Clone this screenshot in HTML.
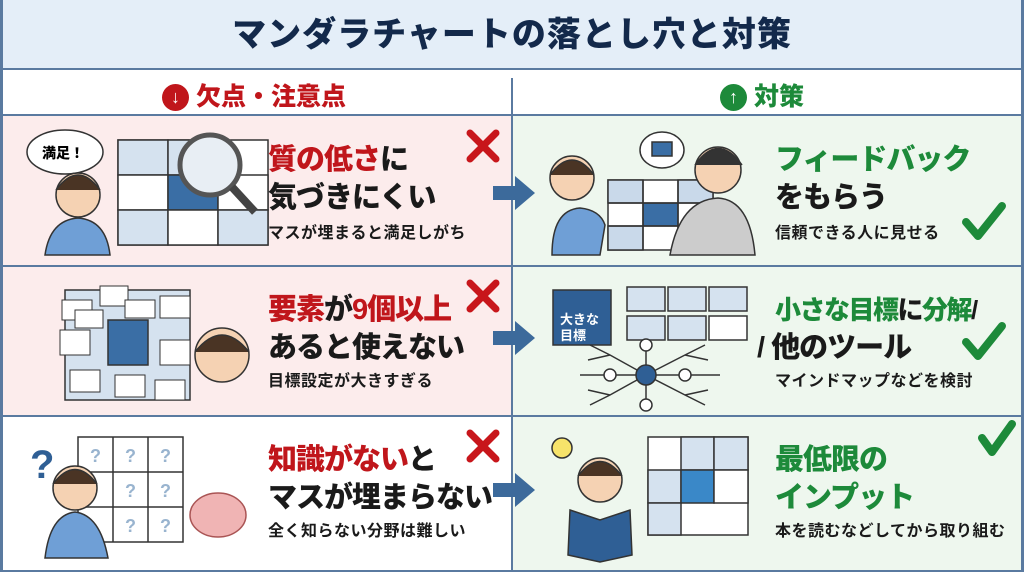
<!DOCTYPE html>
<html><head><meta charset="utf-8"><style>
*{margin:0;padding:0;box-sizing:border-box}
body{width:1024px;height:572px;overflow:hidden;background:#fff;font-family:"Liberation Sans","Noto Sans CJK JP",sans-serif;position:relative}
.a{position:absolute}
.t{position:absolute;font-weight:900;font-size:29px;line-height:40px;color:#1a1a1a;white-space:nowrap;letter-spacing:-1px}
.s{position:absolute;font-weight:700;font-size:16px;line-height:20px;color:#1a1a1a;white-space:nowrap;letter-spacing:0.5px}
.r{color:#c0161b}.g{color:#1d8a3a}
</style></head><body>
<div class="a" style="left:0;top:0;width:1024px;height:68px;background:#e4eef8"></div>
<div class="a" style="left:0;top:12px;width:1024px;text-align:center;font-size:34px;line-height:46px;font-weight:900;color:#13294b;letter-spacing:1px">マンダラチャートの落とし穴と対策</div>
<div class="a" style="left:162px;top:84px;width:27px;height:27px;border-radius:50%;background:#c0161b;color:#fff;font-size:18px;font-weight:900;text-align:center;line-height:27px">↓</div>
<div class="a" style="left:196px;top:81px;font-size:25px;line-height:32px;font-weight:900;color:#c0161b">欠点・注意点</div>
<div class="a" style="left:720px;top:84px;width:27px;height:27px;border-radius:50%;background:#1d8a3a;color:#fff;font-size:18px;font-weight:900;text-align:center;line-height:27px">↑</div>
<div class="a" style="left:754px;top:81px;font-size:25px;line-height:32px;font-weight:900;color:#1d8a3a">対策</div>
<!-- row bgs -->
<div class="a" style="left:2px;top:116px;width:510px;height:150px;background:#fcecec"></div>
<div class="a" style="left:512px;top:116px;width:510px;height:150px;background:#eef7ee"></div>
<div class="a" style="left:2px;top:266px;width:510px;height:150px;background:#fcecec"></div>
<div class="a" style="left:512px;top:266px;width:510px;height:150px;background:#eef7ee"></div>
<div class="a" style="left:2px;top:416px;width:510px;height:156px;background:#fff"></div>
<div class="a" style="left:512px;top:416px;width:510px;height:156px;background:#eef7ee"></div>
<!-- lines -->
<div class="a" style="left:0;top:68px;width:1024px;height:2px;background:#5a7aa0"></div>
<div class="a" style="left:0;top:114px;width:1024px;height:2px;background:#5a7aa0"></div>
<div class="a" style="left:0;top:265px;width:1024px;height:2px;background:#5a7aa0"></div>
<div class="a" style="left:0;top:415px;width:1024px;height:2px;background:#5a7aa0"></div>
<div class="a" style="left:0;top:570px;width:1024px;height:2px;background:#5a7aa0"></div>
<div class="a" style="left:511px;top:78px;width:2px;height:494px;background:#5a7aa0"></div>
<div class="a" style="left:0;top:0;width:3px;height:572px;background:#5a7aa0"></div>
<div class="a" style="left:1021px;top:0;width:3px;height:572px;background:#5a7aa0"></div>

<svg class="a" style="left:0;top:0" width="1024" height="572">
<g stroke="#333" stroke-width="1.5">
<ellipse cx="65" cy="152" rx="38" ry="22" fill="#fff"/>
<rect x="118" y="140" width="150" height="105" fill="#fff"/>
<rect x="118" y="140" width="50" height="35" fill="#d5e2ef"/><rect x="168" y="140" width="50" height="35" fill="#d5e2ef"/>
<rect x="118" y="175" width="50" height="35" fill="#fff"/><rect x="168" y="175" width="50" height="35" fill="#3a6ea5"/><rect x="218" y="175" width="50" height="35" fill="#fff"/>
<rect x="118" y="210" width="50" height="35" fill="#d5e2ef"/><rect x="168" y="210" width="50" height="35" fill="#fff"/><rect x="218" y="210" width="50" height="35" fill="#d5e2ef"/>
<circle cx="210" cy="165" r="30" fill="#e8eef4" stroke-width="5" stroke="#555"/>
<line x1="232" y1="187" x2="255" y2="212" stroke-width="8" stroke="#444"/>
<circle cx="78" cy="195" r="22" fill="#f5d2b3"/><path d="M56 190 Q78 160 100 190" fill="#4a3424"/>
<path d="M45 255 Q50 220 78 218 Q106 220 110 255Z" fill="#6f9fd6"/>
<rect x="608" y="180" width="105" height="70" fill="#fff"/>
<rect x="608" y="180" width="35" height="23" fill="#c9d9ea"/><rect x="643" y="203" width="35" height="23" fill="#3a6ea5"/><rect x="678" y="180" width="35" height="23" fill="#c9d9ea"/><rect x="608" y="226" width="35" height="24" fill="#c9d9ea"/><rect x="678" y="226" width="35" height="24" fill="#c9d9ea"/>
<line x1="643" y1="180" x2="643" y2="250"/><line x1="678" y1="180" x2="678" y2="250"/><line x1="608" y1="203" x2="713" y2="203"/><line x1="608" y1="226" x2="713" y2="226"/>
<circle cx="572" cy="178" r="22" fill="#f5d2b3"/><path d="M550 175 Q572 145 594 175" fill="#4a3424"/>
<path d="M552 255 Q552 210 580 208 Q600 210 605 225 L600 255Z" fill="#6f9fd6"/>
<circle cx="718" cy="170" r="23" fill="#f5d2b3"/><path d="M695 165 Q718 132 742 165" fill="#333"/>
<path d="M670 255 Q680 200 718 198 Q750 200 755 255Z" fill="#ccc"/>
<ellipse cx="662" cy="150" rx="22" ry="18" fill="#fff"/><rect x="652" y="142" width="20" height="14" fill="#3a6ea5"/>
<rect x="65" y="290" width="125" height="110" fill="#d5e2ef"/>
<rect x="108" y="320" width="40" height="45" fill="#3a6ea5"/>
<g fill="#fff" stroke-width="1"><rect x="62" y="300" width="30" height="20"/><rect x="100" y="286" width="28" height="20"/><rect x="160" y="296" width="30" height="22"/><rect x="60" y="330" width="30" height="25"/><rect x="160" y="340" width="30" height="25"/><rect x="70" y="370" width="30" height="22"/><rect x="115" y="375" width="30" height="22"/><rect x="155" y="380" width="30" height="20"/><rect x="75" y="310" width="28" height="18"/><rect x="125" y="300" width="30" height="18"/></g>
<circle cx="222" cy="355" r="27" fill="#f5d2b3"/><path d="M195 352 Q222 318 249 352" fill="#4a3424"/>
<rect x="553" y="290" width="58" height="55" fill="#2f5f95"/>
<g fill="#d5e2ef"><rect x="627" y="287" width="38" height="24"/><rect x="668" y="287" width="38" height="24"/><rect x="709" y="287" width="38" height="24"/><rect x="627" y="316" width="38" height="24"/><rect x="668" y="316" width="38" height="24"/><rect x="709" y="316" width="38" height="24" fill="#fff"/></g>
<g fill="none"><line x1="580" y1="375" x2="720" y2="375"/><line x1="646" y1="345" x2="646" y2="405"/><path d="M646 375 L610 355 L590 345 M610 355 L588 360 M646 375 L610 395 L590 405 M610 395 L588 390 M646 375 L685 355 L705 345 M685 355 L708 360 M646 375 L685 395 L705 405 M685 395 L708 390"/></g>
<circle cx="646" cy="375" r="10" fill="#2f5f95"/>
<g fill="#fff"><circle cx="646" cy="345" r="6"/><circle cx="646" cy="405" r="6"/><circle cx="610" cy="375" r="6"/><circle cx="685" cy="375" r="6"/></g>
<rect x="78" y="437" width="105" height="105" fill="#fff"/>
<line x1="113" y1="437" x2="113" y2="542"/><line x1="148" y1="437" x2="148" y2="542"/><line x1="78" y1="472" x2="183" y2="472"/><line x1="78" y1="507" x2="183" y2="507"/>
<circle cx="75" cy="488" r="22" fill="#f5d2b3"/><path d="M53 484 Q75 455 97 484" fill="#4a3424"/>
<path d="M45 558 Q50 515 75 512 Q100 515 108 558Z" fill="#6f9fd6"/>
<ellipse cx="218" cy="515" rx="28" ry="22" fill="#f0b4b4" stroke="#a55"/>
<rect x="648" y="437" width="100" height="98" fill="#fff"/>
<rect x="681" y="437" width="33" height="33" fill="#d5e2ef"/><rect x="714" y="437" width="34" height="33" fill="#d5e2ef"/>
<rect x="648" y="470" width="33" height="33" fill="#d5e2ef"/><rect x="681" y="470" width="33" height="33" fill="#3a88c8"/><rect x="714" y="470" width="34" height="33" fill="#fff"/>
<rect x="648" y="503" width="33" height="32" fill="#d5e2ef"/>
<circle cx="600" cy="480" r="22" fill="#f5d2b3"/><path d="M578 476 Q600 447 622 476" fill="#4a3424"/>
<path d="M570 510 L600 520 L630 510 L632 555 L600 562 L568 555Z" fill="#2f5f95"/>
<circle cx="562" cy="448" r="10" fill="#f7e36a"/>
</g>
<g fill="#3c6a9b">
<path d="M493 186 H515 V176 L535 193 L515 210 V200 H493Z"/>
<path d="M493 331 H515 V321 L535 338 L515 355 V345 H493Z"/>
<path d="M493 483 H515 V473 L535 490 L515 507 V497 H493Z"/>
</g>
<g stroke="#c8161b" stroke-width="7" stroke-linecap="round">
<path d="M470 133 L496 159 M496 133 L470 159"/>
<path d="M470 283 L496 309 M496 283 L470 309"/>
<path d="M470 433 L496 459 M496 433 L470 459"/>
</g>
<g stroke="#1d8a3a" stroke-width="8" fill="none" stroke-linecap="round" stroke-linejoin="round">
<path d="M966 222 L978 236 L1002 206"/>
<path d="M966 342 L978 356 L1002 326"/>
<path d="M982 438 L992 452 L1012 424"/>
</g>
<g font-family="Liberation Sans,sans-serif" font-size="18" fill="#99b4cf" font-weight="700"><text x="90" y="462">?</text><text x="125" y="462">?</text><text x="160" y="462">?</text><text x="125" y="497">?</text><text x="160" y="497">?</text><text x="125" y="532">?</text><text x="160" y="532">?</text></g>
<text x="30" y="478" font-size="40" font-weight="900" fill="#2f5f95" font-family="Liberation Sans,sans-serif">?</text>
</svg>
<div class="a" style="left:42px;top:143px;font-size:14px;font-weight:900">満足！</div>
<div class="a" style="left:560px;top:312px;color:#fff;font-size:13px;font-weight:700;line-height:16px">大きな<br>目標</div>

<div class="t" style="left:268px;top:140px"><span class="r">質の低さ</span>に</div>
<div class="t" style="left:268px;top:178px">気づきにくい</div>
<div class="s" style="left:268px;top:224px">マスが埋まると満足しがち</div>

<div class="t g" style="left:775px;top:140px">フィードバック</div>
<div class="t" style="left:775px;top:178px">をもらう</div>
<div class="s" style="left:775px;top:224px">信頼できる人に見せる</div>

<div class="t" style="left:268px;top:290px"><span class="r">要素</span>が<span class="r">9個以上</span></div>
<div class="t" style="left:268px;top:328px">あると使えない</div>
<div class="s" style="left:268px;top:372px">目標設定が大きすぎる</div>

<div class="t" style="left:775px;top:290px;font-size:26px;letter-spacing:-1.5px"><span class="g">小さな目標</span>に<span class="g">分解</span>/</div>
<div class="t" style="left:757px;top:328px">/ 他のツール</div>
<div class="s" style="left:775px;top:372px">マインドマップなどを検討</div>

<div class="t" style="left:268px;top:440px"><span class="r">知識がない</span>と</div>
<div class="t" style="left:268px;top:478px">マスが埋まらない</div>
<div class="s" style="left:268px;top:522px">全く知らない分野は難しい</div>

<div class="t g" style="left:775px;top:440px">最低限の</div>
<div class="t g" style="left:775px;top:478px">インプット</div>
<div class="s" style="left:775px;top:522px">本を読むなどしてから取り組む</div>
</body></html>
